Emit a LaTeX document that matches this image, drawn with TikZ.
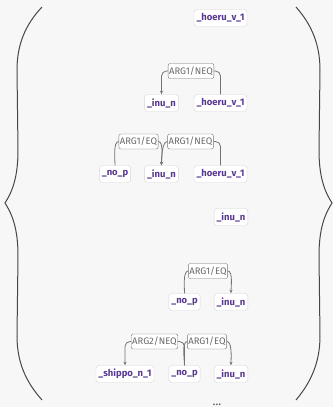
\documentclass[tikz,border=0pt]{standalone}
\usepackage{fontspec}
\setmainfont{Fira Sans}
\usetikzlibrary{arrows.meta, positioning}
\usepackage{xcolor}
\definecolor{bgcol}{RGB}{247, 247, 247}
\definecolor{predcol}{RGB}{88, 56, 145}
\definecolor{rolecol}{RGB}{105, 105, 105}

\begin{document}
\begin{tikzpicture}[x=1bp, y=-1bp,
    pred/.style={draw=black!16, fill=white, rounded corners=3bp, text=predcol, font=\bfseries\fontsize{9.5}{11}\selectfont, inner xsep=2.5bp, inner ysep=2bp, minimum height=17bp},
    role/.style={draw=black!55, fill=white, rounded corners=2bp, text=rolecol, font=\fontsize{9.5}{11}\selectfont, inner xsep=1bp, inner ysep=1bp, minimum height=15bp},
    link/.style={draw=black!55, line width=0.8bp, rounded corners=5bp},
    tip/.style={-{Stealth[length=3.5bp, width=3bp]}},
    brace/.style={draw=black!72, line width=1bp}]
    \fill [bgcol] (0,0) rectangle (333,407);
    \useasboundingbox (0,0) rectangle (333,407);
    % braces
    \draw [brace] (42,7) .. controls (25,25) and (17,45) .. (17,70) -- (18,150)
        .. controls (18,178) and (12,192) .. (5,203)
        .. controls (12,214) and (18,228) .. (18,256) -- (17,336)
        .. controls (17,361) and (25,381) .. (42,400);
    \draw [brace] (296,7) .. controls (312,25) and (320,45) .. (320,70) -- (319,150)
        .. controls (319,178) and (325,192) .. (332,203)
        .. controls (325,214) and (319,228) .. (319,256) -- (320,336)
        .. controls (320,361) and (312,381) .. (296,400);
    % row 1
    \node [pred] (h1) at (220.5,18) {\_hoeru\_v\_1};
    % row 2
    \node [pred] (i2) at (161.5,103) {\_inu\_n};
    \node [pred] (h2) at (220.5,103) {\_hoeru\_v\_1};
    \node [role] (r2) at (191,71) {ARG1/NEQ};
    \draw [link] (h2.north) |- (r2.east);
    \draw [link, tip] (r2.west) -| (i2.north);
    % row 3
    \node [pred] (n3) at (115,174) {\_no\_p};
    \node [pred] (i3) at (161.5,174) {\_inu\_n};
    \node [pred] (h3) at (220.5,174) {\_hoeru\_v\_1};
    \node [role] (r3a) at (138.5,141.5) {ARG1/EQ};
    \node [role] (r3b) at (190.5,141.5) {ARG1/NEQ};
    \draw [link] (n3.north) to [out=90, in=180, looseness=0.6] (r3a.west);
    \draw [link, tip] (r3a.east) to [out=0, in=90, looseness=0.6] (i3.north);
    \draw [link] (h3.north) |- (r3b.east);
    \draw [link, tip] (r3b.west) to [out=180, in=90, looseness=0.6] (i3.north);
    % row 4
    \node [pred] (i4) at (231,217) {\_inu\_n};
    % row 5
    \node [pred] (n5) at (184.5,302) {\_no\_p};
    \node [pred] (i5) at (231,302) {\_inu\_n};
    \node [role] (r5) at (208,271) {ARG1/EQ};
    \draw [link] (n5.north) to [out=90, in=180, looseness=0.6] (r5.west);
    \draw [link, tip] (r5.east) to [out=0, in=90, looseness=0.6] (i5.north);
    % row 6
    \node [pred] (s6) at (125,374) {\_shippo\_n\_1};
    \node [pred] (n6) at (184.5,374) {\_no\_p};
    \node [pred] (i6) at (231,374) {\_inu\_n};
    \node [role] (r6a) at (154.5,341.5) {ARG2/NEQ};
    \node [role] (r6b) at (207,341.5) {ARG1/EQ};
    \draw [link] (n6.north) |- (r6a.east);
    \draw [link, tip] (r6a.west) -| (s6.north);
    \draw [link] (n6.north) to [out=90, in=180, looseness=0.6] (r6b.west);
    \draw [link, tip] (r6b.east) to [out=0, in=90, looseness=0.6] (i6.north);
    % more below
    \node [text=black!70, font=\fontsize{12}{12}\selectfont, inner sep=0pt, anchor=base] (dots) at (217,405) {...};
\end{tikzpicture}
\end{document}
